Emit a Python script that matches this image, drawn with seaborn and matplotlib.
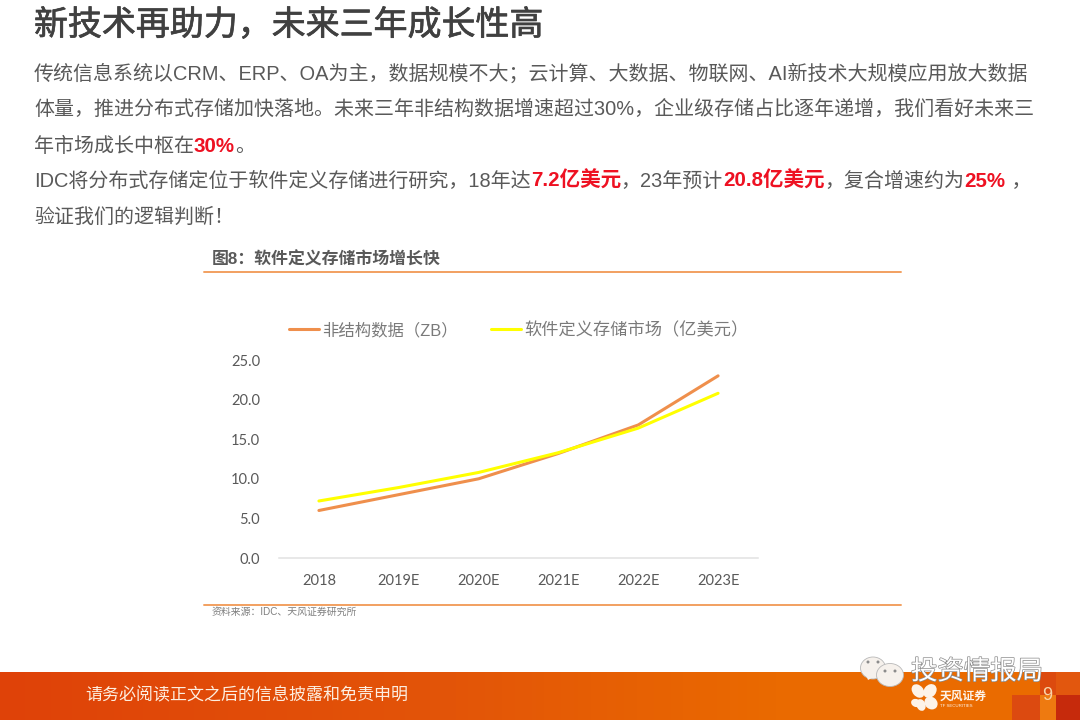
import numpy as np
import pandas as pd
import matplotlib
matplotlib.use("Agg")
import matplotlib.pyplot as plt
import matplotlib.patheffects as pe
from matplotlib.patches import Ellipse, Rectangle, Polygon
import seaborn as sns

years = ["2018", "2019E", "2020E", "2021E", "2022E", "2023E"]
unstructured = [6.0, 8.0, 10.0, 13.2, 16.8, 23.0]
sds_market = [7.2, 8.9, 10.8, 13.3, 16.4, 20.8]
series_names = ["非结构数据（ZB）", "软件定义存储市场（亿美元）"]
y_ticks = [0, 5, 10, 15, 20, 25]

title = "新技术再助力，未来三年成长性高"
chart_title = "图8：软件定义存储市场增长快"
source = "资料来源：IDC、天风证券研究所"
footer = "请务必阅读正文之后的信息披露和免责申明"
# (text, highlighted)
body_lines = [
    [("传统信息系统以CRM、ERP、OA为主，数据规模不大；云计算、大数据、物联网、AI新技术大规模应用放大数据", False)],
    [("体量，推进分布式存储加快落地。未来三年非结构数据增速超过30%，企业级存储占比逐年递增，我们看好未来三", False)],
    [("年市场成长中枢在", False), ("30%", True), ("。", False)],
    [("IDC将分布式存储定位于软件定义存储进行研究，18年达", False), ("7.2亿美元", True), ("，23年预计", False),
     ("20.8亿美元", True), ("，复合增速约为", False), ("25%", True), (" ，", False)],
    [("验证我们的逻辑判断！", False)],
]
body_baseline = [80, 116, 152, 187, 223]

sns.set_theme(style="white")
cjk = ["Liberation Sans", "Noto Sans CJK SC"]
plt.rcParams["font.family"] = cjk

fig = plt.figure(figsize=(10.8, 7.2), dpi=100, facecolor="white")

# page layer in pixel coordinates
page = fig.add_axes([0, 0, 1, 1], zorder=0)

# footer band
grad = np.linspace(0, 1, 256).reshape(1, -1)
cmap = matplotlib.colors.LinearSegmentedColormap.from_list(
    "band", [(0, "#df4208"), (0.42, "#e35508"), (0.72, "#ea6a00"), (1, "#ea6c00")])
page.imshow(grad, extent=[0, 1080, 720, 672], cmap=cmap, aspect="auto")
page.add_patch(Rectangle((1012, 695), 28, 25, color="#dc4a10", lw=0))
page.add_patch(Rectangle((1040, 672), 16, 23, color="#dc4a0e", lw=0))
page.add_patch(Rectangle((1040, 695), 16, 25, color="#ee7a10", lw=0))
page.add_patch(Rectangle((1056, 672), 24, 23, color="#e2570e", lw=0))
page.add_patch(Rectangle((1056, 695), 24, 25, color="#c62a0c", lw=0))
page.set_xlim(0, 1080)
page.set_ylim(720, 0)
page.axis("off")

page.text(34, 35, title, fontsize=24.45, color="#404040", va="baseline", ha="left", fontweight="medium",
          path_effects=[pe.withStroke(linewidth=0.5, foreground="#404040")])

renderer = fig.canvas.get_renderer()
for parts, y in zip(body_lines, body_baseline):
    x = 34
    for text, hot in parts:
        t = page.text(x, y, text, fontsize=14.8 if hot else 14.4, va="baseline", ha="left",
                      color="#ee1122" if hot else "#595959",
                      fontweight="bold" if hot else "normal")
        box = t.get_window_extent(renderer)
        x += box.width

page.text(212, 259, chart_title, fontsize=12.2, fontweight="bold", color="#595959", va="center")
page.plot([204, 901], [272, 272], color="#f2a060", lw=1.4)
page.plot([204, 901], [605, 605], color="#f2a060", lw=1.4)
page.text(212, 612, source, fontsize=7.1, color="#7f7f7f", va="center")

page.text(85.5, 695, footer, fontsize=12.25, color="#fdeee0", va="center")
page.text(1047, 696, "9", fontsize=13, color="#f8d4a8", va="center", ha="center")

# logo
for cx, cy, w, h, ang in [(918, 691, 11, 15, 140), (930, 691, 12, 15, 40),
                          (916, 703, 10, 8, 20), (921, 705, 9, 12, 160), (931, 703, 12, 14, 130)]:
    page.add_patch(Ellipse((cx, cy), w, h, angle=ang, color="#fdf3e8", lw=0))
page.text(940, 697, "天风证券", fontsize=8.5, fontweight="bold", color="#fdf3e8", va="center")
page.text(940, 706, "TF SECURITIES", fontsize=3.2, color="#fdf3e8", va="center")

# watermark
page.add_patch(Ellipse((873, 668), 25, 22, fc="#f6f1ec", ec="#b8b8b8", lw=0.6))
page.add_patch(Polygon([[866, 675], [868, 680], [874, 677]], color="#f6f1ec", lw=0))
page.add_patch(Ellipse((890, 675), 27, 23, fc="#f6f1ec", ec="#b8b8b8", lw=0.6))
for ex, ey in [(868, 662), (878, 662), (885, 671), (895, 671)]:
    page.add_patch(Ellipse((ex, ey), 3, 3, color="#8c8c8c", lw=0))
page.text(977, 672, "投资情报局", fontsize=19, color="white", va="center", ha="center",
          path_effects=[pe.withStroke(linewidth=1.0, foreground="#8a8a8a")])

# chart
df = pd.DataFrame({
    "year": years * 2,
    "value": unstructured + sds_market,
    "series": [series_names[0]] * len(years) + [series_names[1]] * len(years),
})

ax = fig.add_axes([279 / 1080, 1 - 558 / 720, 479 / 1080, 198 / 720], zorder=1)
ax.patch.set_alpha(0)
sns.lineplot(data=df, x="year", y="value", hue="series", hue_order=series_names, sort=False,
             palette=["#ef8f4c", "#ffff00"], linewidth=2.2, ax=ax)
for line in ax.lines:
    line.set_solid_capstyle("round")

ax.set_xlim(-0.5, 5.5)
ax.set_ylim(0, 25)
ax.set_yticks(y_ticks)
ax.set_yticklabels([f"{v:.1f}" for v in y_ticks])
ax.set_xlabel("")
ax.set_ylabel("")
ax.tick_params(axis="both", length=0, labelsize=10.5, labelcolor="#595959")
ax.tick_params(axis="x", pad=11.5)
ax.tick_params(axis="y", pad=13.5)
for lab in ax.get_xticklabels() + ax.get_yticklabels():
    lab.set_fontfamily("Lato")
sns.despine(ax=ax, left=True)
ax.spines["bottom"].set_color("#e2e2e2")
ax.spines["bottom"].set_linewidth(1.1)

handles, labels = ax.get_legend_handles_labels()
leg = ax.legend(handles, labels, ncol=2, frameon=False, fontsize=12.4, labelcolor="#7a7a7a",
                handlelength=1.74, handletextpad=0.2, columnspacing=1.9, borderpad=0, borderaxespad=0,
                loc="center left", bbox_to_anchor=(10 / 479, 1 + 30 / 198))
leg.get_texts()[0].set_fontsize(11.8)

fig.savefig("out.png", dpi=100)
